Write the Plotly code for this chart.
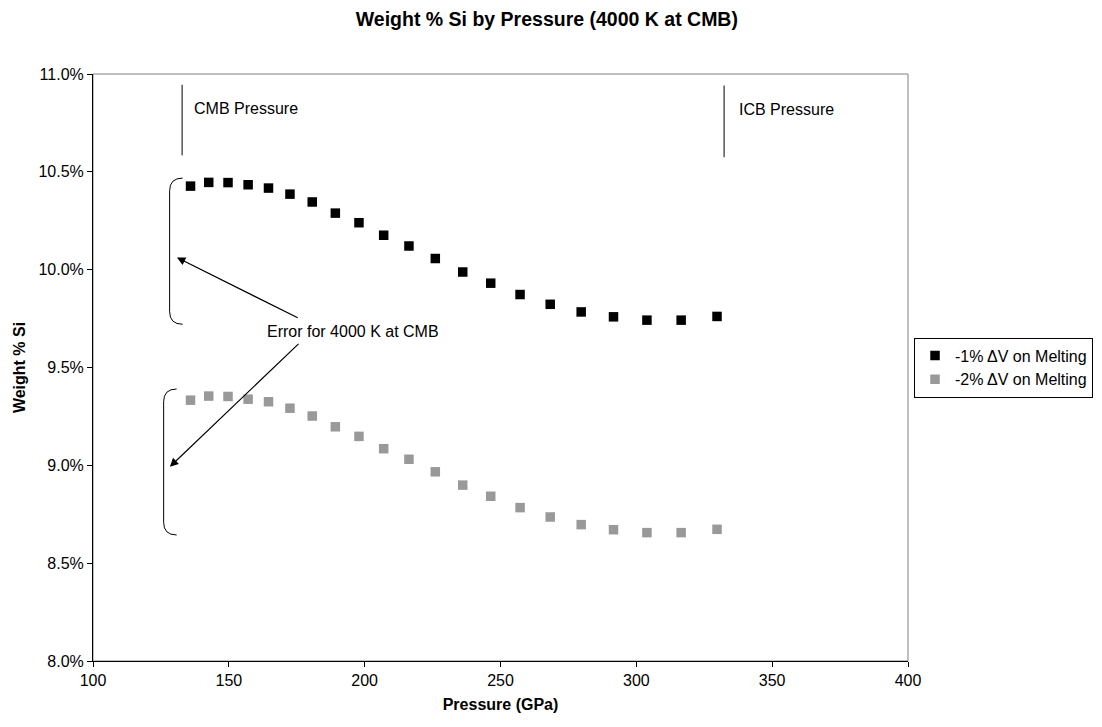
import plotly.graph_objects as go

# pressures (GPa) shared by both series
pressure = [135.9, 142.6, 149.7, 157.1, 164.6, 172.5, 180.7, 189.2, 197.9, 207.0, 216.3,
            226.0, 236.1, 246.4, 257.2, 268.3, 279.7, 291.6, 303.9, 316.5, 329.7]
# weight % Si
si_1pct = [10.427, 10.446, 10.445, 10.434, 10.417, 10.386, 10.346, 10.289, 10.240, 10.176, 10.121,
           10.057, 9.988, 9.931, 9.873, 9.823, 9.784, 9.759, 9.742, 9.742, 9.761]
si_2pct = [9.333, 9.354, 9.352, 9.338, 9.325, 9.292, 9.252, 9.197, 9.148, 9.085, 9.031,
           8.967, 8.899, 8.842, 8.784, 8.736, 8.697, 8.671, 8.656, 8.656, 8.673]

cmb_p, icb_p = 132.8, 332.3

font = "Liberation Sans, Arial, sans-serif"

fig = go.Figure()
fig.add_trace(go.Scatter(x=pressure, y=si_1pct, mode="markers", name="-1% ΔV on Melting",
                         marker=dict(symbol="square", size=9.5, color="black")))
fig.add_trace(go.Scatter(x=pressure, y=si_2pct, mode="markers", name="-2% ΔV on Melting",
                         marker=dict(symbol="square", size=9.5, color="#999999")))

shapes = [
    # grey frame (top/right)
    dict(type="rect", xref="paper", yref="paper", x0=0, x1=1, y0=0, y1=1,
         line=dict(color="#808080", width=1), layer="below"),
    # CMB / ICB marker lines
    dict(type="line", x0=cmb_p, x1=cmb_p, y0=10.945, y1=10.584, line=dict(color="black", width=1)),
    dict(type="line", x0=icb_p, x1=icb_p, y0=10.941, y1=10.575, line=dict(color="black", width=1)),
]


def bracket(xv, xr, ytop, ybot):
    r = 0.065
    return dict(type="path", line=dict(color="black", width=1),
                path=f"M {xr},{ytop} Q {xv},{ytop} {xv},{ytop - r} L {xv},{ybot + r} Q {xv},{ybot} {xr},{ybot}")


shapes.append(bracket(128.2, 133.0, 10.468, 9.721))
shapes.append(bracket(126.0, 130.8, 9.390, 8.644))

annotations = [
    dict(x=cmb_p + 3.6, y=10.822, text="CMB Pressure", showarrow=False, xanchor="left",
         font=dict(size=16, color="black")),
    dict(x=icb_p + 4.8, y=10.819, text="ICB Pressure", showarrow=False, xanchor="left",
         font=dict(size=16, color="black")),
    dict(x=195.7, y=9.686, text="Error for 4000 K at CMB", showarrow=False,
         font=dict(size=16, color="black")),
    dict(x=130.9, y=10.062, ax=175.9, ay=9.750, axref="x", ayref="y", text="",
         showarrow=True, arrowhead=2, arrowsize=1.4, arrowwidth=1.2, arrowcolor="black"),
    dict(x=128.3, y=8.993, ax=176.2, ay=9.628, axref="x", ayref="y", text="",
         showarrow=True, arrowhead=2, arrowsize=1.4, arrowwidth=1.2, arrowcolor="black"),
]

fig.update_layout(
    width=1102, height=727,
    paper_bgcolor="white", plot_bgcolor="white",
    font=dict(family=font, size=16, color="black"),
    margin=dict(l=85, r=202, t=66, b=74),
    title=dict(text="<b>Weight % Si by Pressure (4000 K at CMB)</b>", x=0.489, xanchor="center",
               xref="container", y=0.985, yanchor="middle", font=dict(size=19.5)),
    xaxis=dict(range=[100, 400], dtick=50, tick0=100, showgrid=False, zeroline=False,
               showline=True, linecolor="black", linewidth=1, ticks="outside", ticklen=5,
               tickcolor="black",
               title=dict(text="<b>Pressure (GPa)</b>", font=dict(size=16), standoff=10)),
    yaxis=dict(range=[8.0, 11.0], dtick=0.5, tick0=8.0, showgrid=False, zeroline=False,
               showline=True, linecolor="black", linewidth=1, ticks="outside", ticklen=5,
               tickcolor="black", tickformat=".1f", ticksuffix="%",
               title=dict(text="<b>Weight % Si</b>", font=dict(size=16), standoff=8)),
    legend=dict(x=1.0074, y=0.5, xanchor="left", yanchor="middle", bgcolor="white",
                bordercolor="black", borderwidth=1, font=dict(size=16),
                itemwidth=30, tracegroupgap=0),
    shapes=shapes,
    annotations=annotations,
    showlegend=True,
)

fig.write_html("out.html")
